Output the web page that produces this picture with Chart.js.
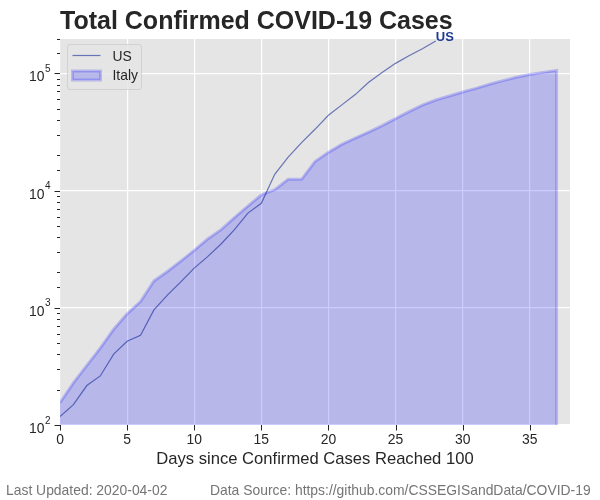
<!DOCTYPE html>
<html>
<head>
<meta charset="utf-8">
<style>html,body{margin:0;padding:0;background:#fff}canvas{display:block}</style>
<script src="https://cdn.jsdelivr.net/npm/chart.js@4"></script>
</head>
<body>
<div style="width:600px;height:500px"><canvas id="c" width="600" height="500"></canvas></div>
<script>
const usCases = [118,149,217,262,402,518,583,959,1281,1663,2179,2727,3499,4632,6421,7783,13747,19273,25600,33276,43847,53740,65778,83836,101657,121465,140909,161831,188172];
const italyCases = [155,229,322,453,655,888,1128,1694,2036,2502,3089,3858,4636,5883,7375,9172,10149,12462,12462,17660,21157,24747,27980,31506,35713,41035,47021,53578,59138,63927,69176,74386,80589,86498,92472,97689,101739,105792];
const xTicks = [0,5,10,15,20,25,30,35];
const yDecades = [100,1000,10000,100000];
const seriesNames = ['US','Italy'];
const titleText = 'Total Confirmed COVID-19 Cases';
const xTitle = 'Days since Confirmed Cases Reached 100';
const footLeft = 'Last Updated: 2020-04-02';
const footRight = 'Data Source: https://github.com/CSSEGISandData/COVID-19';

const FONT = '"Liberation Sans", Arial, sans-serif';
const INK = '#262626';
const US_LINE = 'rgba(20,40,150,0.6)';
const IT_FILL = 'rgba(0,0,255,0.2)';
const yFloor = yDecades[0];
const lastDay = italyCases.length - 1;
const usPts = usCases.map((y,x)=>({x,y}));
const itPts = italyCases.map((y,x)=>({x,y}));
itPts.push({x:lastDay,y:yFloor});

const decor = {
  id:'decor',
  beforeDraw(chart){
    const {ctx,chartArea:a}=chart;
    chart.titleBlock.left=a.left;
    ctx.save();
    ctx.fillStyle='#e5e5e5';
    ctx.fillRect(a.left,a.top,a.right-a.left,a.bottom-a.top);
    ctx.restore();
  },
  afterDatasetsDraw(chart){
    const {ctx,chartArea:a}=chart;
    const L=a.left+7.5,T=a.top+5.5;
    ctx.save();
    ctx.fillStyle='rgba(229,229,229,0.8)';
    ctx.strokeStyle='rgba(204,204,204,0.8)';
    ctx.lineWidth=1;
    ctx.beginPath();ctx.roundRect(L,T,74,45,2.5);ctx.fill();ctx.stroke();
    ctx.strokeStyle=US_LINE;ctx.lineWidth=1.2;
    ctx.beginPath();ctx.moveTo(L+5,T+11);ctx.lineTo(L+33,T+11);ctx.stroke();
    ctx.fillStyle=IT_FILL;ctx.strokeStyle=IT_FILL;ctx.lineWidth=3;
    ctx.fillRect(L+5,T+26.5,28,9);ctx.strokeRect(L+5,T+26.5,28,9);
    ctx.fillStyle=INK;ctx.font='13.9px '+FONT;ctx.textAlign='left';ctx.textBaseline='alphabetic';
    ctx.fillText(seriesNames[0],L+45,T+16);
    ctx.fillText(seriesNames[1],L+45,T+35.5);
    ctx.restore();
  },
  afterDraw(chart){
    const {ctx,chartArea:a,scales:{x,y}}=chart;
    ctx.save();
    ctx.strokeStyle=INK; ctx.lineWidth=1;
    ctx.beginPath();
    y.ticks.forEach(t=>{
      if(t.value<y.min||t.value>y.max*1.03) return;
      const p=Math.round(Math.min(y.getPixelForValue(t.value),a.bottom))+0.5;
      const len=yDecades.includes(t.value)?5.5:3;
      ctx.moveTo(a.left,p); ctx.lineTo(a.left-len,p);
    });
    xTicks.forEach(v=>{
      const p=Math.round(x.getPixelForValue(v))+0.5;
      ctx.moveTo(p,a.bottom); ctx.lineTo(p,a.bottom+5.5);
    });
    ctx.stroke();
    ctx.textBaseline='alphabetic';
    yDecades.forEach(v=>{
      const p=y.getPixelForValue(v);
      ctx.fillStyle=INK;
      ctx.textAlign='right';ctx.font='13.9px '+FONT;
      ctx.fillText('10',44.5,p+8);
      ctx.textAlign='left';ctx.font='10px '+FONT;
      ctx.fillText(String(Math.round(Math.log10(v))),45,p-1.5);
    });
    ctx.textAlign='left';
    ctx.fillStyle='#1f3a93';
    ctx.font='bold 13px '+FONT;
    const li=usCases.length-1;
    ctx.fillText(seriesNames[0],x.getPixelForValue(li),y.getPixelForValue(usCases[li]));
    ctx.fillStyle='#757575';
    ctx.font='13.9px '+FONT;
    ctx.fillText(footLeft,6,495);
    ctx.fillText(footRight,210,495);
    ctx.restore();
  }
};

new Chart(document.getElementById('c'),{
  type:'line',
  data:{datasets:[
    {label:seriesNames[0],data:usPts,borderColor:US_LINE,borderWidth:1.2,pointRadius:0,fill:false,tension:0,order:1},
    {label:seriesNames[1],data:itPts,borderColor:IT_FILL,backgroundColor:IT_FILL,borderWidth:3,pointRadius:0,fill:'start',tension:0,order:2}
  ]},
  options:{
    responsive:false,animation:false,devicePixelRatio:1,
    layout:{padding:{left:0,right:30,top:0,bottom:31}},
    scales:{
      x:{type:'linear',min:0,max:38,
        afterBuildTicks(s){s.ticks=xTicks.map(value=>({value}));},
        afterFit(s){s.height=44;},
        grid:{color:'#ffffff',lineWidth:1.2,drawTicks:false},
        border:{display:false},
        ticks:{color:INK,font:{family:FONT,size:13.9},padding:7,maxRotation:0,autoSkip:false},
        title:{display:true,text:xTitle,color:INK,font:{family:FONT,size:16.6},padding:{top:7,bottom:0}}
      },
      y:{type:'logarithmic',min:yFloor,max:196000,
        afterFit(s){s.width=60;},
        grid:{color:c=>yDecades.includes(c.tick.value)?'#ffffff':'rgba(0,0,0,0)',lineWidth:1.2,drawTicks:false},
        border:{display:false},
        ticks:{autoSkip:false,callback:()=>''}
      }
    },
    plugins:{
      title:{display:true,text:titleText,align:'start',color:INK,font:{family:FONT,size:25,weight:'bold'},padding:{top:7,bottom:2}},
      legend:{display:false},
      tooltip:{enabled:false}
    }
  },
  plugins:[decor]
});
</script>
</body>
</html>
